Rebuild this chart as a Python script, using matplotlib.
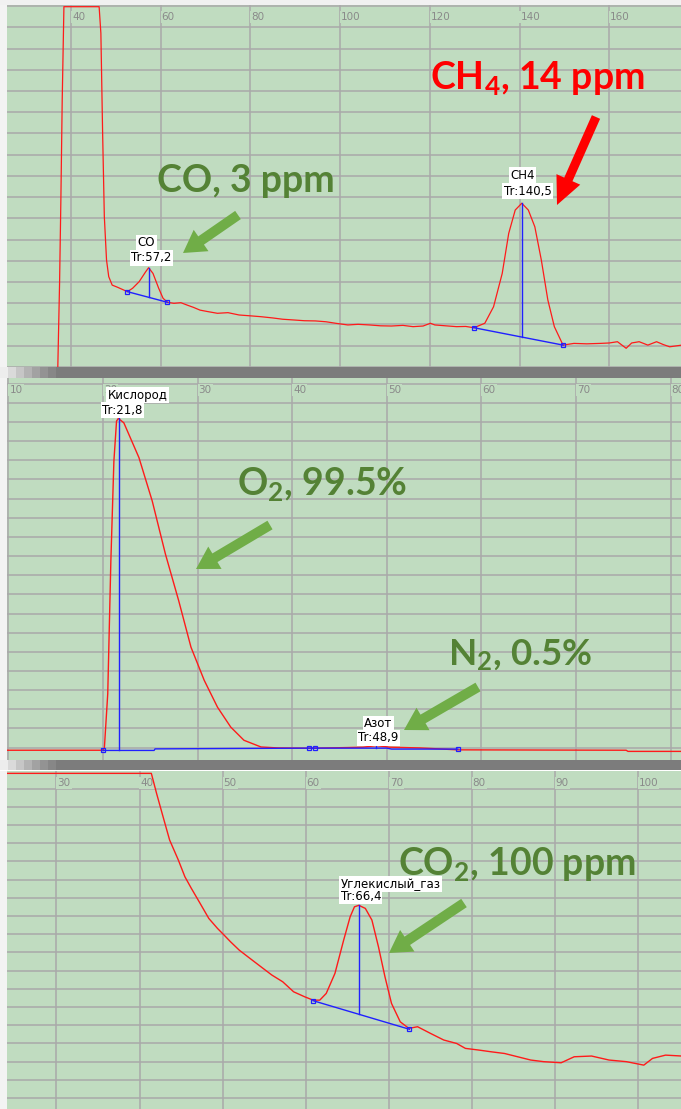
import matplotlib
matplotlib.use('Agg')
import matplotlib.pyplot as plt
import numpy as np
from matplotlib.patches import FancyArrow, Rectangle

plt.rcParams['mathtext.fontset'] = 'custom'
plt.rcParams['mathtext.rm'] = 'Lato:bold'
plt.rcParams['mathtext.it'] = 'Lato:bold'
plt.rcParams['mathtext.bf'] = 'Lato:bold'

# ---------------- data ----------------
# Panel 1 (CO, CH4)
t1 = [37.0, 37.06, 37.45, 37.74, 38.04, 38.42, 46.27, 46.66, 47.05, 47.43, 47.92, 48.41,
      49.18, 50.35, 52.58, 53.73, 55.19, 56.65, 57.3, 58.28, 59.55, 60.52, 61.49, 62.94,
      64.5, 65.86, 67.3, 68.76, 70.5, 72.64, 75.0, 77.48, 80.0, 82.34, 85.0, 87.18, 90.0,
      92.02, 94.5, 96.88, 99.0, 101.72, 104.0, 106.57, 109.0, 111.42, 114.0, 116.26, 118.5,
      120.14, 121.11, 123.5, 125.96, 128.0, 129.83, 132.26, 134.21, 136.14, 137.59, 139.04,
      140.5, 141.96, 143.41, 144.86, 146.31, 147.76, 149.7, 152.13, 155.0, 157.95, 160.0,
      161.83, 163.77, 165.0, 166.67, 168.61, 170.55, 172.0, 173.47, 176.2]
s1 = [-0.5, 0.0, 3.93, 7.86, 12.58, 16.98, 16.98, 15.73, 11.01, 7.08, 5.03, 4.25,
      3.85, 3.75, 3.54, 3.70, 4.01, 4.48, 4.67, 4.40, 3.70, 3.23, 3.04, 2.99,
      3.02, 2.91, 2.80, 2.67, 2.60, 2.52, 2.55, 2.44, 2.40, 2.36, 2.30, 2.24, 2.20,
      2.17, 2.16, 2.12, 2.05, 1.97, 2.00, 1.97, 1.93, 1.92, 1.95, 1.89, 1.92,
      2.05, 1.97, 1.93, 1.89, 1.90, 1.84, 2.05, 2.83, 4.40, 6.29, 7.39,
      7.71, 7.39, 6.60, 5.03, 3.15, 1.89, 1.02, 1.10, 1.08, 1.10, 1.12,
      1.18, 0.87, 1.12, 1.18, 1.02, 1.18, 1.05, 0.94, 1.02]
ticks1 = [40, 60, 80, 100, 120, 140, 160]
peaks1 = ["CO", "CH4"]
peak_rt1 = [57.3, 140.5]
peak_h1 = [4.67, 7.71]
tr_labels1 = ["Tr:57,2", "Tr:140,5"]
base1_start = [(52.58, 3.54), (129.83, 1.84)]
base1_end = [(61.49, 3.04), (149.7, 1.02)]

# Panel 2 (O2, N2)
t2 = [9.85, 19.9, 20.14, 20.5, 20.83, 21.15, 21.43, 21.62, 22.2, 23.8, 25.2, 26.6, 28.0,
      29.3, 30.7, 32.1, 33.5, 34.9, 36.7, 38.5, 41.8, 45.8, 47.5, 48.9, 50.3, 53.5, 57.5,
      75.3, 75.5, 81.1]
s2 = [-0.14, -0.14, -0.05, 2.81, 9.76, 14.96, 17.05, 17.19, 16.96, 15.14, 12.88, 10.10,
      7.67, 5.24, 3.51, 2.11, 1.07, 0.38, 0.03, -0.02, -0.04, 0.0, 0.02, 0.10, 0.02,
      -0.02, -0.12, -0.14, -0.2, -0.2]
ticks2 = [10, 20, 30, 40, 50, 60, 70, 80]
base2_x = [20.0, 25.4, 25.5, 41.8, 42.4, 50.0, 50.5, 57.5]
base2_y = [-0.15, -0.15, -0.07, -0.03, -0.03, -0.03, -0.08, -0.08]
mark2_x = [20.0, 41.8, 42.4, 57.5]
peaks2 = ["Кислород", "Азот"]
peak_rt2 = [21.65, 48.9]
peak_h2 = [17.19, 0.10]
tr_labels2 = ["Tr:21,8", "Tr:48,9"]

# Panel 3 (CO2)
t3 = [24.04, 41.42, 42.05, 42.83, 43.62, 44.67, 45.46, 46.24, 47.29, 48.34, 49.39, 50.17,
      50.95, 52.0, 53.31, 54.63, 55.93, 57.24, 58.55, 59.86, 60.90, 61.70, 62.48, 63.53,
      64.58, 65.36, 65.88, 66.41, 67.19, 67.98, 68.77, 69.55, 70.34, 71.39, 72.43, 73.48,
      75.05, 76.63, 78.19, 79.24, 80.82, 82.39, 83.95, 85.53, 87.10, 88.67, 90.77, 92.34,
      94.43, 96.53, 98.63, 100.72, 101.77, 103.34, 105.3]
s3 = [17.84, 17.84, 16.74, 15.46, 14.18, 13.08, 12.16, 11.52, 10.70, 9.87, 9.32, 8.96,
      8.59, 8.13, 7.67, 7.21, 6.76, 6.39, 5.84, 5.57, 5.38, 5.38, 5.75, 6.85,
      8.68, 9.96, 10.51, 10.59, 10.42, 9.78, 8.31, 6.67, 5.20, 4.19, 3.83, 3.92,
      3.55, 3.19, 3.00, 2.73, 2.64, 2.54, 2.45, 2.27, 2.09, 2.00, 1.94, 2.27,
      2.31, 2.09, 2.00, 1.81, 2.18, 2.36, 2.31]
ticks3 = [30, 40, 50, 60, 70, 80, 90, 100]
peaks3 = ["Углекислый_газ"]
peak_rt3 = [66.4]
peak_h3 = [10.59]
tr_labels3 = ["Tr:66,4"]
base3_start = [(60.9, 5.35)]
base3_end = [(72.5, 3.78)]

# ---------------- style ----------------
W, H = 681, 1109
BG = '#C0DCC0'
GRID = '#A9A9A9'
RED = '#FF1A1A'
BLUE = '#2020FF'
TXT_GREEN = '#548235'
ARR_GREEN = '#70AD47'

fig = plt.figure(figsize=(W / 100, H / 100), dpi=100)
fig.patch.set_facecolor('#F3F3F3')


def px_axes(left, top, right, bottom):
    return fig.add_axes([left / W, 1 - bottom / H, (right - left) / W, (bottom - top) / H])


def setup(ax, xlim, ylim, xticks, nrows):
    ax.set_facecolor(BG)
    ax.set_xlim(*xlim)
    ax.set_ylim(*ylim)
    ax.set_xticks(xticks)
    ax.set_yticks(range(0, nrows + 1))
    ax.tick_params(length=0, labelbottom=False, labelleft=False)
    ax.grid(True, color=GRID, lw=1.1)
    ax.set_axisbelow(True)
    for sp in ax.spines.values():
        sp.set_visible(False)
    for t in xticks:
        ax.annotate(str(t), xy=(t, 1), xycoords=('data', 'axes fraction'),
                    xytext=(1, -12), textcoords='offset pixels', ha='left', va='center',
                    fontsize=7.5, color='#8A8A8A', annotation_clip=False,
                    bbox=dict(boxstyle='square,pad=0.1', fc=BG, ec='none'))


def peak_label(ax, x, y, name, tr, off_name, off_tr):
    for txt, off in ((name, off_name), (tr, off_tr)):
        ax.annotate(txt, xy=(x, y), xytext=off, textcoords='offset pixels',
                    ha='center', va='center', fontsize=8.5, color='black', zorder=6,
                    bbox=dict(boxstyle='square,pad=0.12', fc='white', ec='none'))


def baseline(ax, start, end, rt, h):
    ax.plot([start[0], end[0]], [start[1], end[1]], color=BLUE, lw=1.0, zorder=4)
    ax.plot([start[0], end[0]], [start[1], end[1]], 's', ms=3.2, mfc='none', mec=BLUE,
            mew=0.9, zorder=5)
    by = np.interp(rt, [start[0], end[0]], [start[1], end[1]])
    ax.plot([rt, rt], [h, by], color=BLUE, lw=1.0, zorder=4)


# Panel 1
ax1 = px_axes(7, 5, 681, 368)
setup(ax1, (25.73, 176.0), (-0.06, 17.06), ticks1, 17)
ax1.plot(t1, s1, color=RED, lw=0.9, zorder=3)
for i in range(len(peaks1)):
    baseline(ax1, base1_start[i], base1_end[i], peak_rt1[i], peak_h1[i])
peak_label(ax1, peak_rt1[0], peak_h1[0], peaks1[0], tr_labels1[0], (-2, 25), (3, 10))
peak_label(ax1, peak_rt1[1], peak_h1[1], peaks1[1], tr_labels1[1], (1, 28), (6, 12))

# Panel 2
ax2 = px_axes(7, 378, 681, 760)
setup(ax2, (9.85, 81.1), (-0.65, 19.30), ticks2, 19)
ax2.plot(t2, s2, color=RED, lw=1.0, zorder=3)
ax2.plot(base2_x, base2_y, color=BLUE, lw=1.0, zorder=4)
ax2.plot(mark2_x, np.interp(mark2_x, base2_x, base2_y), 's', ms=3.2, mfc='none',
         mec=BLUE, mew=0.9, zorder=5)
ax2.plot([peak_rt2[0], peak_rt2[0]], [peak_h2[0], -0.15], color=BLUE, lw=1.0, zorder=4)
ax2.plot([peak_rt2[1], peak_rt2[1]], [peak_h2[1], -0.03], color=BLUE, lw=1.0, zorder=4)
peak_label(ax2, peak_rt2[0], peak_h2[0], peaks2[0], tr_labels2[0], (19, 23), (4, 8))
peak_label(ax2, peak_rt2[1], peak_h2[1], peaks2[1], tr_labels2[1], (2, 22), (2, 8))

# Panel 3
ax3 = px_axes(7, 771, 681, 1109)
setup(ax3, (24.04, 105.2), (-0.60, 17.97), ticks3, 17)
ax3.plot(t3, s3, color=RED, lw=1.0, zorder=3)
baseline(ax3, base3_start[0], base3_end[0], peak_rt3[0], peak_h3[0])
peak_label(ax3, peak_rt3[0], peak_h3[0], peaks3[0], tr_labels3[0], (32, 21), (2, 9))

# ---------------- overlay (scrollbars, annotations) ----------------
ov = fig.add_axes([0, 0, 1, 1], zorder=10)
ov.set_xlim(0, W)
ov.set_ylim(H, 0)
ov.axis('off')
ov.patch.set_alpha(0)

for top, bot in ((367, 378), (760, 770)):
    ov.add_patch(Rectangle((0, top), W, bot - top, fc='#7C7C7C', ec='none'))
    greys = ['#EDEDED', '#DADADA', '#C6C6C6', '#B3B3B3', '#A2A2A2', '#939393', '#878787']
    for k, g in enumerate(greys):
        ov.add_patch(Rectangle((k * 8, top), 8, bot - top, fc=g, ec='none'))
ov.add_patch(Rectangle((0, 770), W, 1.2, fc='white', ec='none'))
ov.add_patch(Rectangle((0, 0), W, 5, fc='#F1F1F1', ec='none'))


def arrow(x0, y0, x1, y1, color, w=10, hw=26, hl=22):
    ov.add_patch(FancyArrow(x0, y0, x1 - x0, y1 - y0, width=w, head_width=hw,
                            head_length=hl, length_includes_head=True, fc=color,
                            ec='none'))


big = dict(fontfamily='Lato', fontweight='bold', ha='left', va='baseline')
ov.text(430, 89, 'CH$_4$, 14 ppm', fontsize=27, color='#FF0000', **big)
arrow(596, 117, 557, 205, '#FF0000', w=9, hw=26, hl=28)
ov.text(157, 192, 'CO, 3 ppm', fontsize=27, color=TXT_GREEN, **big)
arrow(238, 215, 183, 253, ARR_GREEN)
ov.text(237, 495, 'O$_2$, 99.5%', fontsize=27, color=TXT_GREEN, **big)
arrow(270, 525, 196, 569, ARR_GREEN)
ov.text(448, 665, 'N$_2$, 0.5%', fontsize=26.5, color=TXT_GREEN, **big)
arrow(478, 687, 404, 730, ARR_GREEN)
ov.text(398, 875, 'CO$_2$, 100 ppm', fontsize=27, color=TXT_GREEN, **big)
arrow(464, 903, 389, 953, ARR_GREEN)

fig.savefig('out.png', dpi=100, facecolor=fig.get_facecolor())
